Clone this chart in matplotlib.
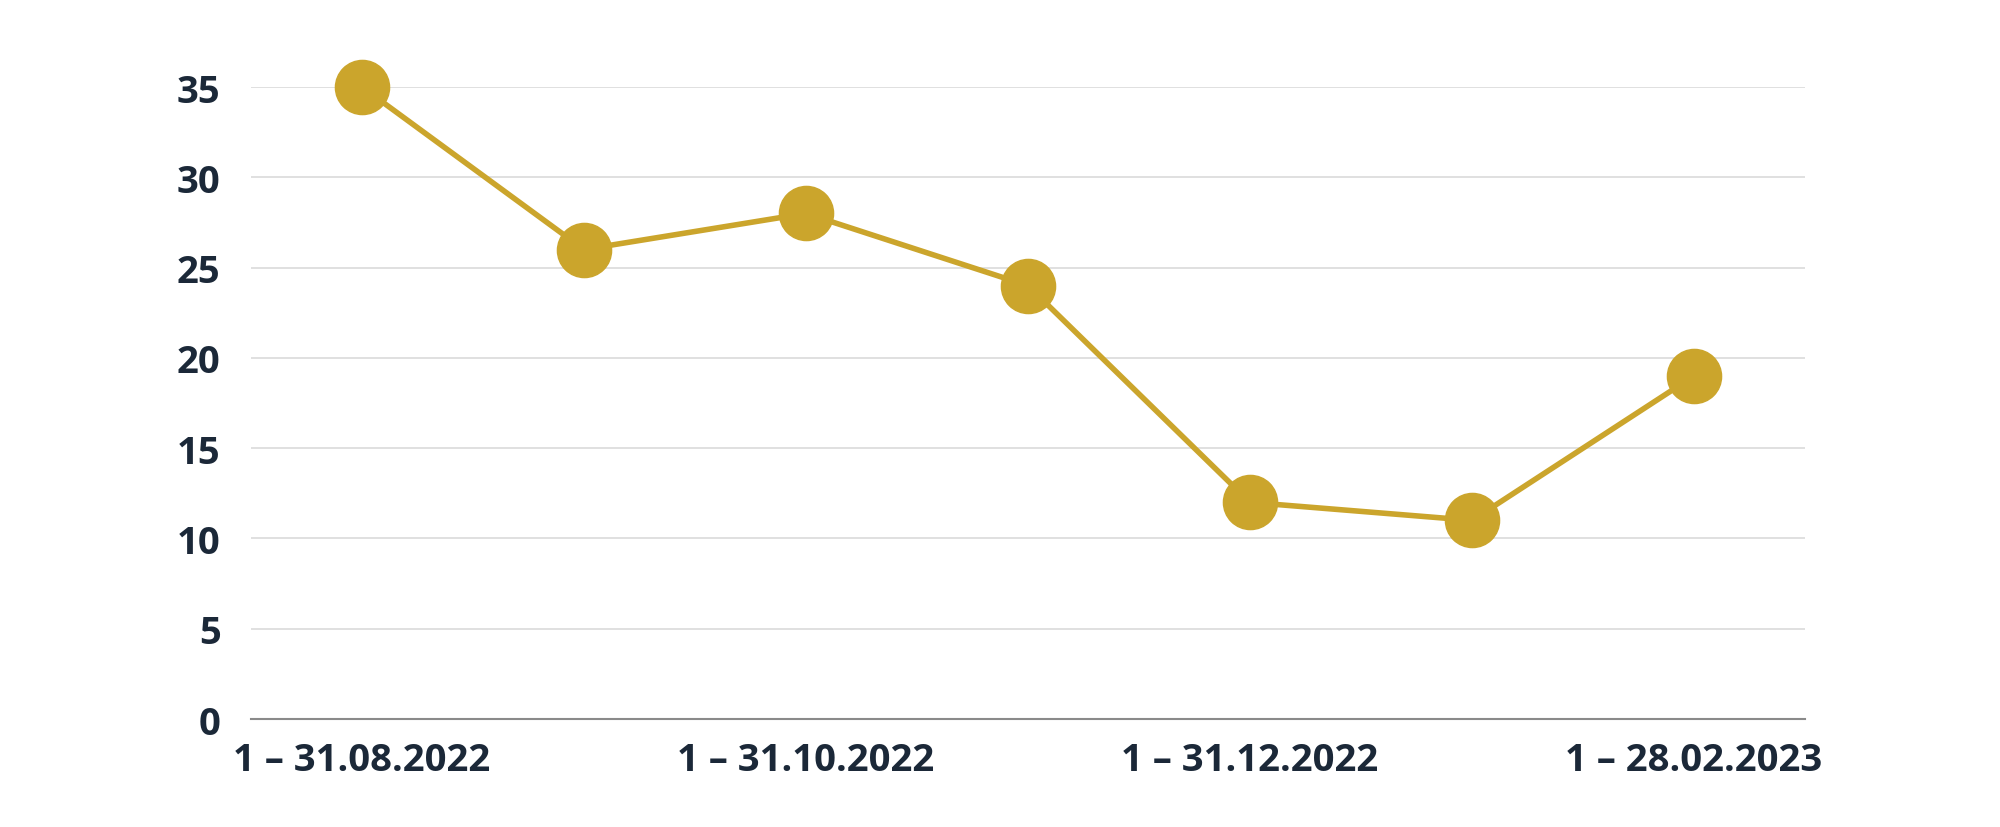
import matplotlib
matplotlib.use('Agg')
import matplotlib.pyplot as plt

# periods (every other one is shown on the axis)
periods = ['1 – 31.08.2022', '1 – 30.09.2022', '1 – 31.10.2022', '1 – 30.11.2022',
           '1 – 31.12.2022', '1 – 31.01.2023', '1 – 28.02.2023']
values = [35, 26, 28, 24, 12, 11, 19]
y_ticks = [0, 5, 10, 15, 20, 25, 30, 35]

gold = '#CBA52C'
navy = '#1B2838'

plt.rcParams['font.family'] = ['Open Sans', 'DejaVu Sans']

fig = plt.figure(figsize=(20, 8.28), dpi=100)
ax = fig.add_axes([0.1255, 0.1304, 0.777, 0.7633])

x = list(range(len(values)))
ax.plot(x, values, color=gold, lw=4, marker='o', ms=39,
        mfc=gold, mec=gold, clip_on=False, zorder=3)

ax.set_xlim(-0.5, len(values) - 0.5)
ax.set_ylim(0, 35)
ax.set_yticks(y_ticks)
ax.set_yticklabels([str(v) for v in y_ticks])
ax.set_xticks(x)
ax.set_xticklabels([p if i % 2 == 0 else '' for i, p in enumerate(periods)])

ax.grid(axis='y', color='#DADADA', lw=1.2)
ax.set_axisbelow(True)
for s in ['top', 'right', 'left']:
    ax.spines[s].set_visible(False)
ax.spines['bottom'].set_color('#8A8A8A')
ax.spines['bottom'].set_linewidth(1.5)
ax.spines['bottom'].set_zorder(1)

ax.tick_params(axis='both', length=0, labelcolor=navy, labelsize=27.5)
ax.tick_params(axis='y', pad=22)
ax.tick_params(axis='x', pad=16)
for lab in ax.get_xticklabels() + ax.get_yticklabels():
    lab.set_fontweight('bold')

fig.savefig('out.png', dpi=100, facecolor='white')
